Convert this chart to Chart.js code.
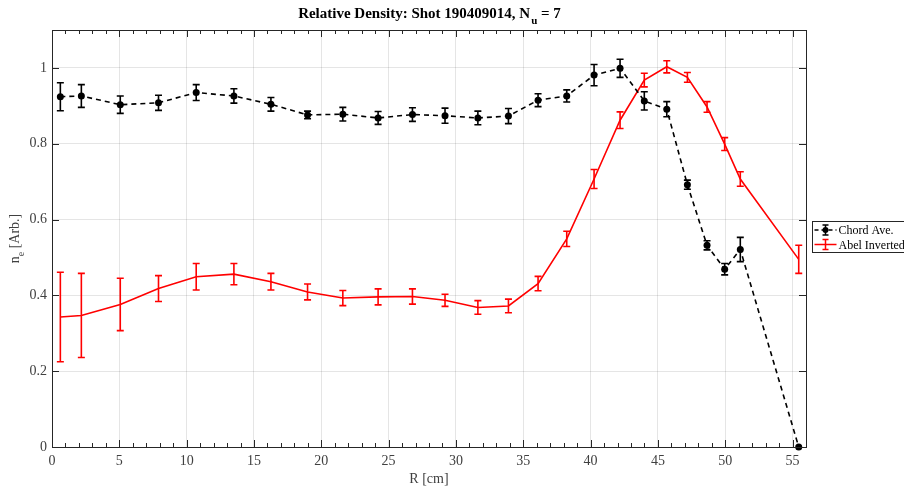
<!DOCTYPE html>
<html>
<head>
<meta charset="utf-8">
<script src="https://cdn.jsdelivr.net/npm/chart.js@4"></script>
<style>
  html, body { margin: 0; padding: 0; background: #fff; }
  #wrap { width: 904px; height: 488px; }
</style>
</head>
<body>
<div id="wrap"><canvas id="densityChart" width="904" height="488"></canvas></div>
<script>
// radial positions [cm]
const R = [0.62, 2.18, 5.07, 7.91, 10.71, 13.51, 16.26, 18.98, 21.6, 24.22, 26.77, 29.19, 31.63,
  33.9, 36.1, 38.23, 40.26, 42.19, 43.99, 45.66, 47.19, 48.65, 49.96, 51.12, 55.46];

const chordAve = [0.924, 0.926, 0.903, 0.908, 0.935, 0.926, 0.904, 0.876, 0.878, 0.868, 0.877, 0.874, 0.868,
  0.873, 0.915, 0.926, 0.981, 0.999, 0.913, 0.891, 0.692, 0.532, 0.469, 0.521, 0.0];
const chordErr = [0.037, 0.030, 0.023, 0.020, 0.021, 0.019, 0.018, 0.010, 0.018, 0.017, 0.018, 0.020, 0.018,
  0.020, 0.017, 0.016, 0.028, 0.024, 0.024, 0.020, 0.012, 0.012, 0.015, 0.032, 0.0];

const abelInv = [0.343, 0.347, 0.376, 0.418, 0.449, 0.456, 0.436, 0.409, 0.393, 0.396, 0.397, 0.387, 0.368,
  0.372, 0.431, 0.549, 0.707, 0.862, 0.968, 1.003, 0.975, 0.897, 0.799, 0.707, 0.495];
const abelErr = [0.118, 0.111, 0.069, 0.034, 0.035, 0.028, 0.022, 0.021, 0.020, 0.021, 0.020, 0.016, 0.018,
  0.018, 0.019, 0.020, 0.025, 0.022, 0.018, 0.016, 0.013, 0.014, 0.017, 0.019, 0.037];

const xTicks = [0, 5, 10, 15, 20, 25, 30, 35, 40, 45, 50, 55];
const yTicks = [0, 0.2, 0.4, 0.6, 0.8, 1];

const SERIF = '"Liberation Serif", "Times New Roman", serif';
const AXIS = '#262626';
const LABEL = '#404040';

// error bars, box axes with inward ticks, title, labels and legend
const matlabLook = {
  id: 'matlabLook',
  afterDatasetsDraw(chart) {
    const ctx = chart.ctx;
    const xs = chart.scales.x, ys = chart.scales.y;
    chart.data.datasets.forEach(ds => {
      if (!ds.err) return;
      ctx.save();
      ctx.strokeStyle = ds.borderColor;
      ctx.lineWidth = 1.6;
      ctx.setLineDash([]);
      ds.data.forEach((p, i) => {
        const e = ds.err[i];
        if (!e) return;
        const px = xs.getPixelForValue(p.x);
        const y1 = ys.getPixelForValue(p.y - e);
        const y2 = ys.getPixelForValue(p.y + e);
        ctx.beginPath();
        ctx.moveTo(px, y1); ctx.lineTo(px, y2);
        ctx.moveTo(px - 3.5, y1); ctx.lineTo(px + 3.5, y1);
        ctx.moveTo(px - 3.5, y2); ctx.lineTo(px + 3.5, y2);
        ctx.stroke();
      });
      ctx.restore();
    });
  },
  afterDraw(chart) {
    const ctx = chart.ctx;
    const a = chart.chartArea;
    const xs = chart.scales.x, ys = chart.scales.y;
    ctx.save();
    ctx.strokeStyle = AXIS;
    ctx.lineWidth = 1;
    ctx.strokeRect(Math.round(a.left) + 0.5, Math.round(a.top) + 0.5,
      Math.round(a.right - a.left), Math.round(a.bottom - a.top));

    ctx.beginPath();
    for (let v = 0; v <= 56; v++) {
      const px = Math.round(xs.getPixelForValue(v)) + 0.5;
      const len = v % 5 === 0 ? 7 : 4;
      ctx.moveTo(px, a.bottom); ctx.lineTo(px, a.bottom - len);
      ctx.moveTo(px, a.top); ctx.lineTo(px, a.top + len);
    }
    yTicks.forEach(v => {
      const py = Math.round(ys.getPixelForValue(v)) + 0.5;
      ctx.moveTo(a.left, py); ctx.lineTo(a.left + 7, py);
      ctx.moveTo(a.right, py); ctx.lineTo(a.right - 7, py);
    });
    ctx.stroke();

    // title with subscript
    ctx.fillStyle = '#000';
    ctx.textBaseline = 'alphabetic';
    const t1 = 'Relative Density: Shot 190409014, N';
    const t2 = 'u';
    const t3 = ' = 7';
    ctx.font = 'bold 15px ' + SERIF;
    const w1 = ctx.measureText(t1).width, w3 = ctx.measureText(t3).width;
    ctx.font = 'bold 11px ' + SERIF;
    const w2 = ctx.measureText(t2).width;
    const tx = (a.left + a.right) / 2 - (w1 + w2 + w3) / 2;
    ctx.textAlign = 'left';
    ctx.font = 'bold 15px ' + SERIF;
    ctx.fillText(t1, tx, 18);
    ctx.font = 'bold 11px ' + SERIF;
    ctx.fillText(t2, tx + w1 + 1, 24);
    ctx.font = 'bold 15px ' + SERIF;
    ctx.fillText(t3, tx + w1 + w2 + 1, 18);

    // x label
    ctx.fillStyle = LABEL;
    ctx.font = '14px ' + SERIF;
    ctx.textAlign = 'center';
    ctx.fillText('R [cm]', (a.left + a.right) / 2, 483);

    // y label with subscript, rotated
    ctx.save();
    ctx.translate(19, (a.top + a.bottom) / 2);
    ctx.rotate(-Math.PI / 2);
    ctx.font = '14px ' + SERIF;
    const s1 = 'n', s3 = ' [Arb.]';
    const sw1 = ctx.measureText(s1).width, sw3 = ctx.measureText(s3).width;
    ctx.font = '10px ' + SERIF;
    const sw2 = ctx.measureText('e').width;
    const sx = -(sw1 + sw2 + sw3) / 2;
    ctx.textAlign = 'left';
    ctx.font = '14px ' + SERIF;
    ctx.fillText(s1, sx, 0);
    ctx.font = '10px ' + SERIF;
    ctx.fillText('e', sx + sw1, 5);
    ctx.font = '14px ' + SERIF;
    ctx.fillText(s3, sx + sw1 + sw2, 0);
    ctx.restore();

    // legend
    const lx = 812.5, ly = 221.5;
    ctx.fillStyle = '#fff';
    ctx.fillRect(lx, ly, 100, 31);
    ctx.strokeStyle = AXIS;
    ctx.lineWidth = 1;
    ctx.strokeRect(lx, ly, 100, 31);
    const items = [
      { label: 'Chord Ave.', color: '#000', dash: [4, 3], dot: true, y: ly + 8.5 },
      { label: 'Abel Inverted', color: '#ff0000', dash: [], dot: false, y: ly + 23 }
    ];
    items.forEach(it => {
      ctx.strokeStyle = it.color;
      ctx.lineWidth = 1.5;
      ctx.setLineDash(it.dash);
      ctx.beginPath();
      ctx.moveTo(lx + 2, it.y); ctx.lineTo(lx + 24, it.y);
      ctx.stroke();
      ctx.setLineDash([]);
      ctx.beginPath();
      ctx.moveTo(lx + 13, it.y - 5); ctx.lineTo(lx + 13, it.y + 5);
      ctx.moveTo(lx + 10, it.y - 5); ctx.lineTo(lx + 16, it.y - 5);
      ctx.moveTo(lx + 10, it.y + 5); ctx.lineTo(lx + 16, it.y + 5);
      ctx.stroke();
      if (it.dot) {
        ctx.fillStyle = it.color;
        ctx.beginPath();
        ctx.arc(lx + 13, it.y, 3, 0, Math.PI * 2);
        ctx.fill();
      }
      ctx.fillStyle = '#000';
      ctx.font = '12px ' + SERIF;
      ctx.textAlign = 'left';
      ctx.textBaseline = 'middle';
      ctx.fillText(it.label, lx + 26, it.y + 1);
    });
    ctx.restore();
  }
};

const ctx = document.getElementById('densityChart').getContext('2d');
new Chart(ctx, {
  type: 'scatter',
  data: {
    datasets: [{
      label: 'Chord Ave.',
      data: R.map((x, i) => ({ x: x, y: chordAve[i] })),
      err: chordErr,
      showLine: true,
      borderColor: '#000',
      backgroundColor: '#000',
      borderWidth: 1.6,
      borderDash: [5, 4],
      pointRadius: 3.5,
      pointBorderWidth: 0,
      clip: false
    }, {
      label: 'Abel Inverted',
      data: R.map((x, i) => ({ x: x, y: abelInv[i] })),
      err: abelErr,
      showLine: true,
      borderColor: '#ff0000',
      backgroundColor: '#ff0000',
      borderWidth: 1.6,
      pointRadius: 0,
      clip: false
    }]
  },
  options: {
    responsive: false,
    animation: false,
    layout: { padding: { top: 30, right: 98, left: 0, bottom: 0 } },
    scales: {
      x: {
        type: 'linear',
        min: 0,
        max: 56,
        afterBuildTicks: scale => { scale.ticks = xTicks.map(v => ({ value: v })); },
        afterFit: scale => { scale.height = 41; },
        border: { display: false },
        grid: { color: 'rgba(0,0,0,0.1)', drawTicks: false },
        ticks: {
          padding: 6,
          color: LABEL,
          font: { family: SERIF, size: 14 },
          callback: v => String(v)
        }
      },
      y: {
        min: 0,
        max: 1.1,
        afterBuildTicks: scale => { scale.ticks = yTicks.map(v => ({ value: v })); },
        afterFit: scale => { scale.width = 52; },
        border: { display: false },
        grid: { color: 'rgba(0,0,0,0.1)', drawTicks: false },
        ticks: {
          padding: 5,
          color: LABEL,
          font: { family: SERIF, size: 14 },
          callback: v => String(Math.round(v * 10) / 10)
        }
      }
    },
    plugins: {
      legend: { display: false },
      tooltip: { enabled: false }
    }
  },
  plugins: [matlabLook]
});
</script>
</body>
</html>
